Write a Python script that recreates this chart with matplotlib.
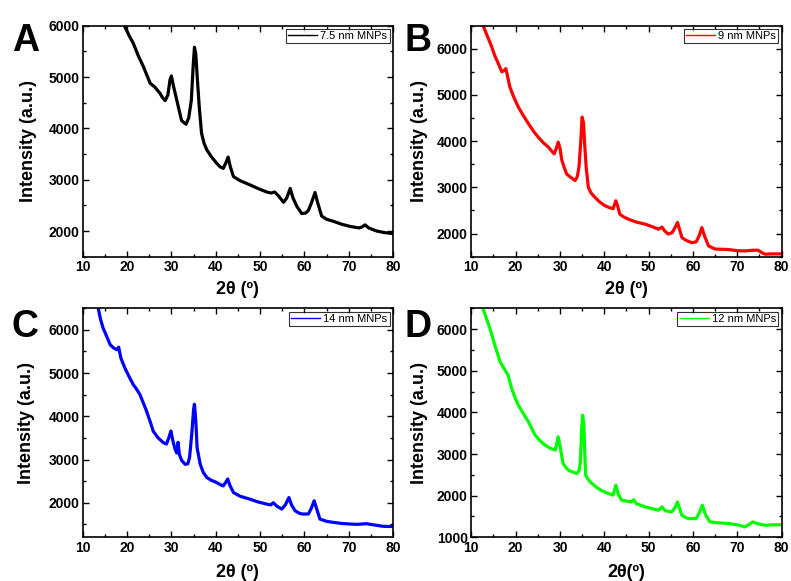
import matplotlib
matplotlib.use("Agg")
import matplotlib.pyplot as plt
from matplotlib.ticker import MultipleLocator

plt.rcParams["font.family"] = ["Liberation Sans", "DejaVu Sans"]

# values (2theta in degrees, intensity a.u.)
A_TWO_THETA = [19.3, 19.5, 20.5, 21.4, 22.5, 23.7, 25.2, 26.3, 27.4, 28.0, 28.6, 29.2, 29.7, 30.0,
               30.4, 31.2, 32.3, 33.3, 33.9, 34.5, 34.9, 35.2, 35.5, 35.9, 36.3, 36.8, 37.4, 38.0,
               39.0, 40.2, 41.0, 41.7, 42.3, 42.8, 43.3, 44.0, 45.5, 47.7, 49.5, 51.5, 52.5, 53.3,
               54.2, 55.3, 56.0, 56.8, 57.4, 58.3, 59.4, 60.3, 60.9, 61.6, 62.4, 63.0, 63.9, 65.0,
               66.5, 68.5, 70.3, 72.3, 73.0, 73.7, 74.5, 76.3, 78.0, 80.0]
A_INTENSITY = [6050, 5980, 5800, 5657, 5420, 5200, 4880, 4800, 4685, 4600, 4540, 4650, 4950, 5020,
               4850, 4555, 4150, 4080, 4200, 4550, 5200, 5580, 5450, 4900, 4400, 3905, 3700, 3580,
               3450, 3320, 3250, 3220, 3330, 3440, 3250, 3060, 2980, 2900, 2830, 2760, 2740, 2760,
               2680, 2560, 2640, 2830, 2650, 2480, 2340, 2350, 2400, 2550, 2750, 2550, 2290, 2230,
               2190, 2130, 2090, 2060, 2080, 2120, 2060, 2000, 1970, 1950]

B_TWO_THETA = [12.5, 12.7, 13.6, 14.6, 15.3, 16.1, 16.9, 17.4, 17.8, 18.3, 18.7, 19.6, 20.6, 21.7,
               22.9, 24.0, 25.1, 26.2, 27.4, 28.1, 28.7, 29.2, 29.6, 30.0, 30.4, 31.0, 31.5, 32.4,
               33.4, 33.9, 34.3, 34.7, 35.0, 35.3, 35.6, 35.9, 36.4, 37.0, 37.9, 39.0, 40.2, 41.2,
               42.0, 42.6, 43.0, 43.5, 44.4, 45.4, 47.2, 49.2, 50.8, 52.2, 53.0, 53.6, 54.4, 55.3,
               55.9, 56.5, 57.0, 57.5, 58.5, 59.7, 60.7, 61.4, 62.0, 62.6, 63.5, 65.0, 66.5, 68.0,
               70.0, 71.7, 73.5, 74.7, 75.5, 76.2, 78.0, 80.0]
B_INTENSITY = [6550, 6493, 6280, 6044, 5850, 5680, 5500, 5530, 5570, 5350, 5174, 4950, 4740, 4560,
               4378, 4220, 4087, 3970, 3870, 3790, 3725, 3850, 3980, 3850, 3600, 3420, 3290, 3220,
               3150, 3230, 3450, 4000, 4520, 4400, 3900, 3450, 3000, 2880, 2783, 2680, 2600, 2560,
               2540, 2710, 2600, 2420, 2360, 2313, 2250, 2204, 2150, 2095, 2140, 2060, 1990, 2020,
               2120, 2240, 2080, 1913, 1850, 1804, 1820, 1950, 2130, 1950, 1733, 1665, 1660, 1655,
               1630, 1624, 1640, 1640, 1590, 1555, 1560, 1560]

C_TWO_THETA = [13.3, 13.5, 14.0, 14.6, 15.4, 16.2, 17.0, 17.7, 18.1, 18.6, 19.5, 20.4, 21.4, 22.2,
               22.9, 23.7, 24.4, 25.2, 25.9, 27.0, 28.2, 28.9, 29.4, 29.9, 30.3, 30.8, 31.2, 31.5,
               31.8, 32.3, 33.1, 33.7, 34.1, 34.6, 35.0, 35.2, 35.5, 35.8, 36.5, 37.2, 38.0, 39.0,
               40.2, 41.0, 41.7, 42.3, 42.7, 43.2, 44.0, 45.5, 47.7, 49.5, 51.5, 52.4, 53.0, 53.8,
               54.9, 55.7, 56.5, 57.1, 57.9, 59.0, 59.8, 60.9, 61.6, 62.2, 62.8, 63.5, 65.0, 66.5,
               68.5, 70.3, 72.0, 74.0, 75.5, 77.8, 80.0]
C_INTENSITY = [6560, 6500, 6250, 6040, 5850, 5655, 5580, 5540, 5600, 5350, 5118, 4930, 4733, 4620,
               4503, 4300, 4118, 3880, 3657, 3500, 3390, 3360, 3500, 3660, 3450, 3250, 3150, 3400,
               3120, 2980, 2890, 2900, 3050, 3600, 4150, 4280, 3900, 3270, 2890, 2700, 2583, 2520,
               2468, 2420, 2390, 2480, 2550, 2400, 2237, 2150, 2083, 2020, 1968, 1950, 2000, 1920,
               1853, 1950, 2120, 1950, 1814, 1750, 1738, 1740, 1880, 2045, 1850, 1622, 1570, 1546,
               1520, 1507, 1500, 1515, 1490, 1454, 1450]

D_TWO_THETA = [12.4, 12.6, 13.4, 14.2, 15.3, 16.5, 17.6, 18.3, 19.1, 19.8, 20.6, 21.8, 22.9, 23.7,
               24.4, 25.5, 26.6, 27.8, 28.9, 29.3, 29.6, 30.0, 30.7, 31.3, 31.9, 32.8, 33.8, 34.3,
               34.6, 34.9, 35.1, 35.4, 35.6, 35.8, 36.3, 36.8, 37.7, 38.6, 39.8, 40.9, 42.0, 42.6,
               43.1, 43.9, 45.0, 46.1, 46.6, 47.2, 49.2, 50.7, 52.2, 53.0, 53.7, 55.2, 55.9, 56.5,
               57.0, 57.5, 58.3, 59.0, 60.7, 61.4, 62.1, 62.8, 63.8, 65.5, 68.0, 70.0, 71.7, 72.8,
               73.5, 74.5, 76.2, 78.0, 80.0]
D_INTENSITY = [6560, 6500, 6260, 6019, 5618, 5216, 5017, 4897, 4577, 4370, 4175, 3960, 3774, 3600,
               3454, 3320, 3214, 3140, 3093, 3250, 3413, 3200, 2774, 2680, 2613, 2570, 2533, 2600,
               2800, 3600, 3935, 3700, 3000, 2493, 2400, 2332, 2250, 2173, 2100, 2053, 2013, 2253,
               2050, 1892, 1870, 1850, 1900, 1810, 1730, 1690, 1650, 1730, 1640, 1610, 1700, 1850,
               1680, 1530, 1480, 1450, 1450, 1580, 1771, 1550, 1370, 1350, 1331, 1300, 1250, 1320,
               1370, 1330, 1290, 1300, 1300]

PANELS = [
    # letter, x, y, legend, colour, ylim, xlabel, axes rect, letter pos
    ("A", A_TWO_THETA, A_INTENSITY, "7.5 nm MNPs", "black", (1500, 6000), "2\u03b8 (\u00ba)",
     (0.1046, 0.5582, 0.3923, 0.3976), (0.015, 0.93)),
    ("B", B_TWO_THETA, B_INTENSITY, "9 nm MNPs", "#ff0000", (1500, 6500), "2\u03b8 (\u00ba)",
     (0.5958, 0.5582, 0.3924, 0.3976), (0.512, 0.93)),
    ("C", C_TWO_THETA, C_INTENSITY, "14 nm MNPs", "#0000ff", (1200, 6500), "2\u03b8 (\u00ba)",
     (0.1046, 0.0752, 0.3923, 0.3942), (0.015, 0.437)),
    ("D", D_TWO_THETA, D_INTENSITY, "12 nm MNPs", "#00ff00", (1000, 6500), "2\u03b8(\u00ba)",
     (0.5958, 0.0752, 0.3924, 0.3942), (0.512, 0.437)),
]
YLABEL_X = {"A": -0.148, "B": -0.139, "C": -0.153, "D": -0.140}
XLABEL_Y = {"A": -0.105, "B": -0.105, "C": -0.115, "D": -0.115}

fig = plt.figure(figsize=(7.91, 5.81), dpi=100)

for letter, xs, ys, name, colour, ylim, xlabel, pos, letter_pos in PANELS:
    ax = fig.add_axes(pos)
    ax.plot(xs, ys, color=colour, linewidth=2.3, label=name)
    ax.set_xlim(10, 80)
    ax.set_ylim(*ylim)
    ax.xaxis.set_major_locator(MultipleLocator(10))
    ax.xaxis.set_minor_locator(MultipleLocator(5))
    ax.yaxis.set_major_locator(MultipleLocator(1000))
    ax.yaxis.set_minor_locator(MultipleLocator(500))
    ax.tick_params(which="both", direction="in", top=True, right=True, width=1.0)
    ax.tick_params(which="major", length=4, pad=2.5, labelsize=10)
    ax.tick_params(which="minor", length=2.5)
    for lab in ax.get_xticklabels() + ax.get_yticklabels():
        lab.set_fontweight("bold")
    for sp in ax.spines.values():
        sp.set_linewidth(1.2)
    ax.set_xlabel(xlabel, fontsize=13, fontweight="bold")
    ax.set_ylabel("Intensity (a.u.)", fontsize=13, fontweight="bold")
    ax.yaxis.set_label_coords(YLABEL_X[letter], 0.5)
    ax.xaxis.set_label_coords(0.5, XLABEL_Y[letter])
    leg = ax.legend(loc="upper right", fontsize=8, frameon=True, fancybox=False,
                    borderpad=0.2, handlelength=2.6, handletextpad=0.3,
                    borderaxespad=0.3)
    leg.get_frame().set_edgecolor("black")
    leg.get_frame().set_linewidth(0.8)
    for line in leg.get_lines():
        line.set_linewidth(1.0)
    fig.text(letter_pos[0], letter_pos[1], letter, fontsize=27, fontweight="bold",
             va="center", ha="left")

fig.savefig("out.png", dpi=100)
